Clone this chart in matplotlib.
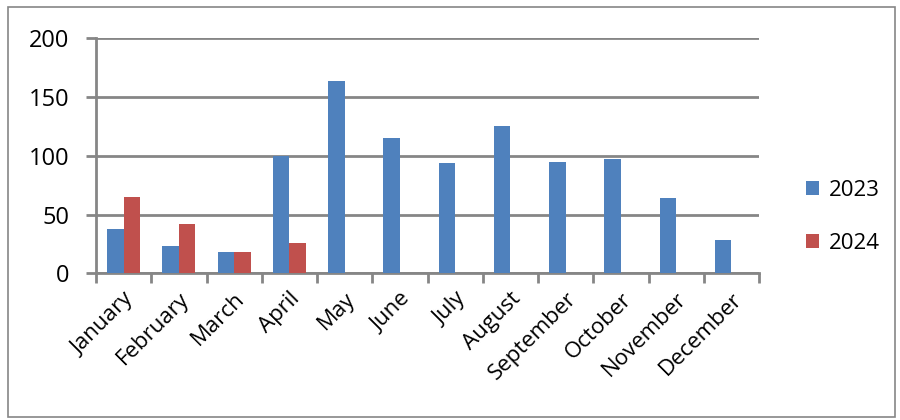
import numpy as np
import matplotlib.pyplot as plt
from matplotlib.patches import Rectangle

months = ["January", "February", "March", "April", "May", "June", "July",
          "August", "September", "October", "November", "December"]
values_2023 = [38, 23, 18, 100, 164, 115, 94, 125, 95, 97, 64, 28]
values_2024 = [65, 42, 18, 26]

blue = "#4F81BD"
red = "#C0504D"
grid_col = "#868686"

plt.rcParams["font.family"] = ["Open Sans", "DejaVu Sans"]

fig = plt.figure(figsize=(9, 4.2), dpi=100)
ax = fig.add_axes([96 / 900, 1 - 273.3 / 420, (759 - 96) / 900, (273.3 - 38.3) / 420])

x = np.arange(len(months))
w = 0.3
ax.bar(x - w / 2, values_2023, w, color=blue, label="2023", zorder=3)
ax.bar(np.arange(len(values_2024)) + w / 2, values_2024, w, color=red, label="2024", zorder=3)

ax.set_xlim(-0.5, len(months) - 0.5)
ax.set_ylim(0, 200)
ax.set_yticks(range(0, 201, 50))
ax.yaxis.grid(True, color=grid_col, linewidth=2, zorder=0)
ax.set_axisbelow(True)

# month labels sit under the group centres, ticks go on the group borders
ax.set_xticks(x)
ax.set_xticklabels(months, rotation=45, ha="right", rotation_mode="anchor", fontsize=16)
ax.tick_params(axis="x", length=0, pad=11)
ax.set_xticks(np.arange(-0.5, len(months)), minor=True)
ax.tick_params(axis="x", which="minor", length=7, width=2, color=grid_col)
ax.tick_params(axis="y", length=7, width=2, color=grid_col, labelsize=17, pad=12)

for side in ["top", "right"]:
    ax.spines[side].set_visible(False)
for side in ["left", "bottom"]:
    ax.spines[side].set_color(grid_col)
    ax.spines[side].set_linewidth(2)

fig.legend(loc="center left", bbox_to_anchor=(0.895, 0.484), frameon=False,
           fontsize=16, handlelength=0.6, handleheight=0.6, labelspacing=1.45,
           handletextpad=0.45, borderaxespad=0, borderpad=0)

fig.patches.append(Rectangle((0.009, 0.006), 0.985, 0.978, transform=fig.transFigure,
                             fill=False, edgecolor=grid_col, linewidth=1.2))

fig.savefig("out.png", dpi=100)
